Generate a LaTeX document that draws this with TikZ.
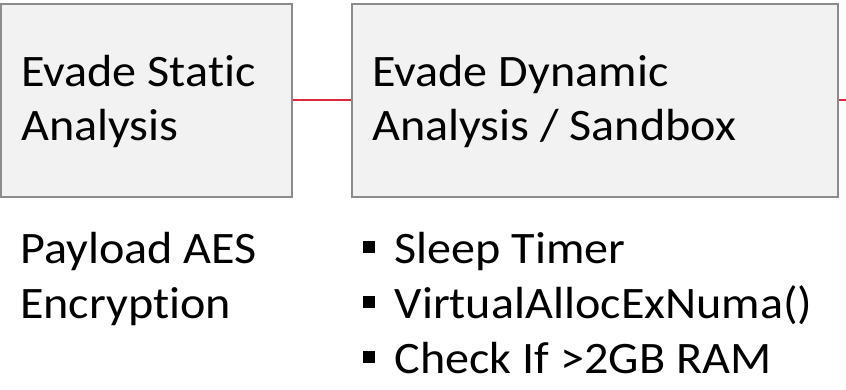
\documentclass[tikz,border=0pt]{standalone}
\usepackage{fontspec}
\setmainfont{Carlito}[Ligatures=NoCommon, FakeStretch=1.07]
\definecolor{boxgray}{RGB}{140,140,140}
\definecolor{boxfill}{RGB}{242,242,242}
\definecolor{linkred}{RGB}{220,40,60}
\newcommand{\bulletsq}{\rule[10pt]{12pt}{12pt}\hspace{19.5pt}}
\begin{document}
\begin{tikzpicture}[x=1pt,y=-1pt,
  stagebox/.style={draw=boxgray, line width=2pt, fill=boxfill, inner sep=0pt, minimum height=193pt},
  txt/.style={anchor=base west, inner sep=0pt, font=\fontsize{45}{55}\selectfont},
  link/.style={draw=linkred, line width=2pt}]
\useasboundingbox (0,0) rectangle (846,390);
% boxes
\node[stagebox, minimum width=291pt] (b1) at (146.5,100.5) {};
\node[stagebox, minimum width=486pt] (b2) at (595,100.5) {};
\coordinate (rend) at (846,100.5);
% connectors
\draw[link] (b1.east) -- (b2.west);
\draw[link] (b2.east) -- (rend);
% box texts
\node[txt] (t1a) at (21,87) {Evade Static};
\node[txt] (t1b) at (21,141) {Analysis};
\node[txt] (t2a) at (372,87) {Evade Dynamic};
\node[txt] (t2b) at (372,141) {Analysis / Sandbox};
% lower texts
\node[txt] (p1) at (20,263) {Payload AES};
\node[txt] (p2) at (20,318) {Encryption};
\node[txt] (s1) at (363,263) {\bulletsq Sleep Timer};
\node[txt] (s2) at (363,318) {\bulletsq VirtualAllocExNuma()};
\node[txt] (s3) at (363,373) {\bulletsq Check If >2GB RAM};
\end{tikzpicture}
\end{document}
